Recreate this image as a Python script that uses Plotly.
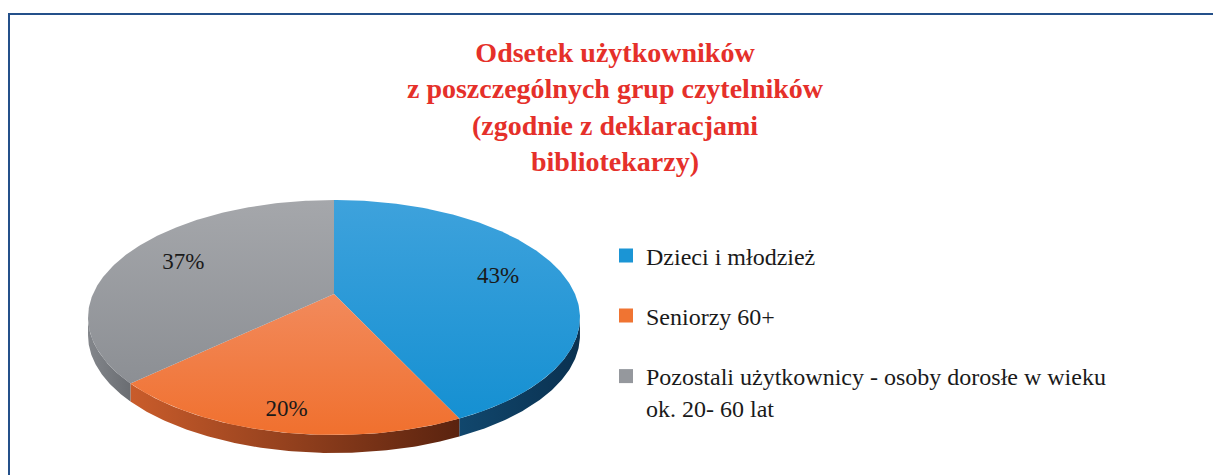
import numpy as np
import plotly.graph_objects as go

# ---- data ----
categories = [
    "Dzieci i młodzież",
    "Seniorzy 60+",
    "Pozostali użytkownicy - osoby dorosłe w wieku<br>ok. 20- 60 lat",
]
values = [43, 20, 37]
value_labels = ["43%", "20%", "37%"]
title_text = ("Odsetek użytkowników<br>z poszczególnych grup czytelników"
              "<br>(zgodnie z deklaracjami<br>bibliotekarzy)")

# ---- style ----
SERIF = "Liberation Serif"
top_colors = ["#1b95d5", "#f07432", "#95989d"]
# [bottom colour, top colour] of each top face
top_grad = [["#1590d2", "#3ea2dc"], ["#f0702e", "#f28a5c"], ["#8c8f94", "#a5a7ab"]]
side_colors = [["#11476d", "#0a3150"], ["#c95c2b", "#5a230f"], ["#83868b", "#6a6d72"]]
label_r = [0.72, 0.87, 0.72]
legend_y_px = [256, 316, 354]

OFF = 8                      # page body margin
W, H = 1221 - OFF, 475 - OFF
CX, CY = 334 - OFF, 294 - OFF      # projected pie centre (px)
A, K, P = 241, 112.8, 0.2  # horizontal radius, vertical scale, perspective
DEPTH = 18


def proj(theta, r=1.0):
    u = r * np.sin(theta)
    v = r * np.cos(theta)
    d = 1 + P * v
    return CX + A * u / d, CY - K * v / d


fig = go.Figure()
total = float(sum(values))
cum = np.concatenate([[0], np.cumsum(values)]) / total * 2 * np.pi
tv0 = np.arccos(-P)
tv1 = 2 * np.pi - tv0

# side walls
for i in range(len(values)):
    s0, s1 = max(cum[i], tv0), min(cum[i + 1], tv1)
    if s0 < s1:
        t = np.linspace(s0, s1, 120)
        x, y = proj(t)
        xs = np.concatenate([x, x[::-1], x[:1]])
        ys = np.concatenate([y, y[::-1] + DEPTH, y[:1]])
        fig.add_trace(go.Scatter(
            x=xs, y=ys, mode="lines", fill="toself", line=dict(width=0),
            fillgradient=dict(type="horizontal",
                              colorscale=[[0, side_colors[i][0]], [1, side_colors[i][1]]]),
            hoverinfo="skip", showlegend=False))

# top faces
for i in range(len(values)):
    t = np.linspace(cum[i], cum[i + 1], 200)
    x, y = proj(t)
    xs = np.concatenate([[CX], x, [CX]])
    ys = np.concatenate([[CY], y, [CY]])
    fig.add_trace(go.Scatter(
        x=xs, y=ys, mode="lines", fill="toself",
        fillgradient=dict(type="vertical",
                          colorscale=[[0, top_grad[i][0]], [1, top_grad[i][1]]]),
        line=dict(width=0),
        hoverinfo="skip", showlegend=False))

# value labels
lx, ly = [], []
for i in range(len(values)):
    mid = (cum[i] + cum[i + 1]) / 2
    x, y = proj(mid, label_r[i])
    lx.append(x)
    ly.append(y)
fig.add_trace(go.Scatter(
    x=lx, y=ly, mode="text", text=value_labels,
    textfont=dict(family=SERIF, size=23, color="#1a1a1a"),
    hoverinfo="skip", showlegend=False))

# legend entries
legend_names = ["legend", "legend2", "legend3"]
for i, cat in enumerate(categories):
    fig.add_trace(go.Scatter(
        x=[None], y=[None], mode="markers", name=cat,
        marker=dict(symbol="square", size=14, color=top_colors[i]),
        legend=legend_names[i]))

legend_common = dict(
    font=dict(family=SERIF, size=24, color="#1a1a1a"),
    bgcolor="rgba(0,0,0,0)", borderwidth=0, xanchor="left",
    valign="top", itemclick=False, itemdoubleclick=False)

LX = (606 - OFF) / W
fig.update_layout(
    width=W, height=H,
    margin=dict(l=0, r=0, t=0, b=0),
    paper_bgcolor="white", plot_bgcolor="white",
    title=dict(text=title_text, x=(615 - OFF) / W, xanchor="center",
               y=1 - 54 / H, yanchor="top",
               font=dict(family=SERIF, size=28, color="#e5302a", weight="bold")),
    xaxis=dict(range=[0, W], visible=False, domain=[0, 1], fixedrange=True),
    yaxis=dict(range=[H, 0], visible=False, domain=[0, 1], fixedrange=True),
    legend=dict(x=LX, y=1 - (legend_y_px[0] - OFF) / H, yanchor="middle", **legend_common),
    legend2=dict(x=LX, y=1 - (legend_y_px[1] - OFF) / H, yanchor="middle", **legend_common),
    legend3=dict(x=LX, y=1 - (legend_y_px[2] - OFF) / H, yanchor="top", **legend_common),
    shapes=[dict(type="rect", xref="paper", yref="paper",
                 x0=(9 - OFF) / W, y0=1 - (14 - OFF) / H, x1=1.02, y1=-0.05,
                 line=dict(color="#24508a", width=2), layer="below")],
    showlegend=True,
)

fig.write_html("out.html")
